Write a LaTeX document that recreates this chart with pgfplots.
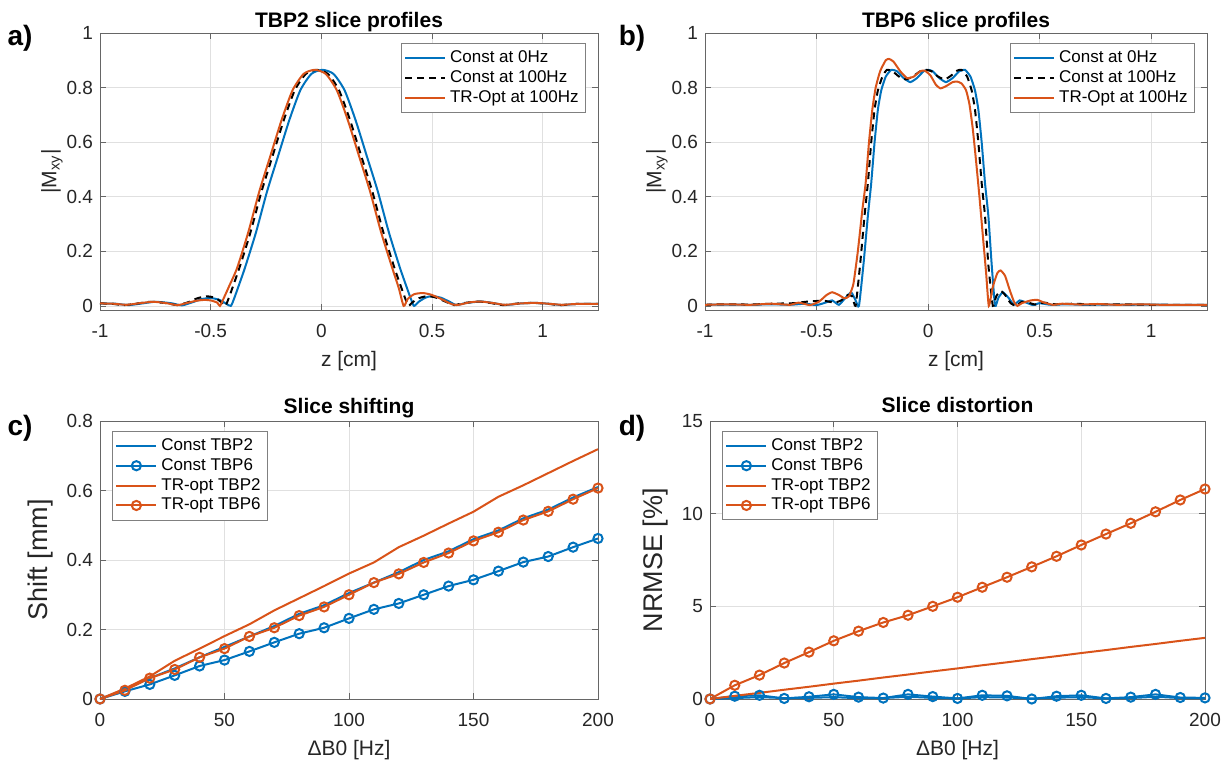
\documentclass[border=0pt]{standalone}
\usepackage{fontspec}
\setmainfont{Liberation Sans}
\usepackage{pgfplots}
\pgfplotsset{compat=1.18}

\definecolor{mblue}{RGB}{0,114,189}
\definecolor{morange}{RGB}{217,83,25}

\pgfplotsset{
  mat/.style={
    scale only axis, anchor=south west,
    axis line style={black!60, line width=0.4pt},
    tick align=inside, tick pos=both, major tick length=3pt,
    tick style={black!60, line width=0.4pt},
    grid=major, grid style={black!12, line width=0.4pt},
    /pgf/number format/assume math mode=true,
    tick label style={font=\fontsize{9.5}{10}\selectfont, text=black!85},
    xticklabel style={yshift=-3.5pt},
    label style={font=\fontsize{10.5}{12}\selectfont, text=black!85},
    title style={font=\bfseries\fontsize{10.5}{12}\selectfont, anchor=base, yshift=-3.5pt},
    legend cell align=left,
    legend style={font=\fontsize{8.5}{10}\selectfont, draw=black!50,
      line width=0.4pt, inner sep=1.5pt, row sep=-1.5pt},
    legend image code/.code={\draw[mark repeat=2,mark phase=2,##1]
      plot coordinates {(0pt,0pt) (10pt,0pt) (20pt,0pt)};},
  },
  bl/.style={mblue, line width=1pt},
  bk/.style={black, line width=1pt, dash pattern=on 3.5pt off 2.5pt},
  og/.style={morange, line width=1pt},
  mk/.style={mark=o, mark size=2.3pt, mark options={solid, fill=none}},
}

\begin{document}
\begin{tikzpicture}
\useasboundingbox (0,0) rectangle (612.5pt,380pt);

% a) TBP2 profiles
\begin{axis}[mat, at={(50pt,225pt)}, width=249pt, height=138.5pt,
  xmin=-1, xmax=1.25, ymin=-0.015, ymax=1,
  xtick={-1,-0.5,0,0.5,1}, ytick={0,0.2,0.4,0.6,0.8,1},
  title={TBP2 slice profiles}, xlabel={z [cm]}, ylabel={|M\textsubscript{xy}|},
  ylabel style={yshift=-5pt},
  legend style={at={(1,1)}, xshift=-6pt, yshift=-5pt, anchor=north east}]
\addplot[bl, smooth, tension=0.4] coordinates {
(-1.0,0.009) (-0.93,0.008) (-0.87,0.003) (-0.81,0.009) (-0.75,0.015) (-0.68,0.01)
(-0.63,0.002) (-0.58,0.014) (-0.54,0.025) (-0.5,0.029) (-0.46,0.022) (-0.43,0.008)
(-0.409,0.0) (-0.395,0.025) (-0.375,0.07) (-0.345,0.14) (-0.295,0.27) (-0.245,0.42)
(-0.195,0.55) (-0.145,0.68) (-0.095,0.79) (-0.045,0.85) (0.005,0.865) (0.055,0.85)
(0.105,0.79) (0.155,0.68) (0.205,0.55) (0.255,0.42) (0.305,0.27) (0.355,0.14)
(0.385,0.07) (0.405,0.025) (0.419,0.0) (0.44,0.015) (0.47,0.03) (0.5,0.036)
(0.54,0.03) (0.58,0.015) (0.61,0.003) (0.65,0.01) (0.72,0.016) (0.78,0.01)
(0.83,0.003) (0.9,0.009) (0.97,0.011) (1.04,0.007) (1.09,0.003) (1.15,0.007) (1.25,0.007)};
\addplot[bk, smooth, tension=0.4] coordinates {
(-1.0,0.009) (-0.95,0.008) (-0.89,0.003) (-0.83,0.009) (-0.77,0.015) (-0.7,0.01)
(-0.65,0.003) (-0.6,0.014) (-0.56,0.028) (-0.52,0.035) (-0.48,0.03) (-0.45,0.012)
(-0.434,0.0) (-0.42,0.025) (-0.4,0.07) (-0.37,0.14) (-0.32,0.27) (-0.27,0.42)
(-0.22,0.55) (-0.17,0.68) (-0.12,0.79) (-0.07,0.85) (-0.02,0.865) (0.03,0.85)
(0.08,0.79) (0.13,0.68) (0.18,0.55) (0.23,0.42) (0.28,0.27) (0.33,0.14)
(0.36,0.07) (0.38,0.025) (0.394,0.0) (0.41,0.012) (0.44,0.028) (0.48,0.036)
(0.52,0.03) (0.56,0.016) (0.6,0.003) (0.64,0.01) (0.71,0.016) (0.77,0.01)
(0.82,0.003) (0.89,0.009) (0.96,0.011) (1.03,0.007) (1.08,0.003) (1.15,0.007) (1.25,0.007)};
\addplot[og, smooth, tension=0.4] coordinates {
(-1.0,0.009) (-0.94,0.008) (-0.88,0.004) (-0.82,0.01) (-0.76,0.015) (-0.7,0.01)
(-0.65,0.003) (-0.61,0.01) (-0.57,0.018) (-0.53,0.022) (-0.5,0.02) (-0.47,0.012)
(-0.458,0.0) (-0.44,0.03) (-0.415,0.075) (-0.38,0.14) (-0.33,0.27) (-0.28,0.42)
(-0.23,0.55) (-0.18,0.68) (-0.13,0.79) (-0.08,0.85) (-0.03,0.865) (0.02,0.85)
(0.07,0.79) (0.12,0.68) (0.17,0.55) (0.22,0.42) (0.27,0.27) (0.32,0.14)
(0.35,0.065) (0.372,0.0) (0.39,0.025) (0.42,0.043) (0.46,0.047) (0.5,0.04)
(0.55,0.022) (0.59,0.006) (0.62,0.004) (0.67,0.013) (0.72,0.016) (0.78,0.01)
(0.83,0.004) (0.9,0.009) (0.97,0.011) (1.04,0.007) (1.09,0.004) (1.15,0.007) (1.25,0.007)};
\legend{Const at 0Hz, Const at 100Hz, TR-Opt at 100Hz}
\end{axis}

% b) TBP6 profiles
\begin{axis}[mat, at={(352.5pt,225pt)}, width=251pt, height=138.5pt,
  xmin=-1, xmax=1.25, ymin=-0.015, ymax=1,
  xtick={-1,-0.5,0,0.5,1}, ytick={0,0.2,0.4,0.6,0.8,1},
  title={TBP6 slice profiles}, xlabel={z [cm]}, ylabel={|M\textsubscript{xy}|},
  ylabel style={yshift=-5pt},
  legend style={at={(1,1)}, xshift=-6pt, yshift=-5pt, anchor=north east}]
\addplot[bl, smooth, tension=0.3] coordinates {
(-1.0,0.004) (-0.9,0.005) (-0.8,0.004) (-0.7,0.006) (-0.62,0.004) (-0.55,0.008)
(-0.5,0.003) (-0.46,0.012) (-0.43,0.02) (-0.4,0.004) (-0.37,0.03) (-0.345,0.05)
(-0.325,0.02) (-0.31,0.0) (-0.29,0.15) (-0.27,0.33) (-0.255,0.45) (-0.24,0.6)
(-0.225,0.72) (-0.21,0.79) (-0.19,0.84) (-0.165,0.865) (-0.14,0.86) (-0.11,0.835)
(-0.08,0.82) (-0.05,0.835) (-0.02,0.86) (0.0,0.865) (0.02,0.86) (0.05,0.835)
(0.08,0.82) (0.11,0.835) (0.14,0.86) (0.165,0.865) (0.19,0.84) (0.21,0.79)
(0.225,0.72) (0.24,0.6) (0.255,0.45) (0.27,0.33) (0.285,0.15) (0.3,0.0)
(0.315,0.03) (0.335,0.05) (0.36,0.03) (0.385,0.004) (0.41,0.02) (0.44,0.012)
(0.47,0.003) (0.5,0.01) (0.55,0.004) (0.62,0.006) (0.7,0.004) (0.8,0.005)
(0.9,0.004) (1.0,0.005) (1.1,0.004) (1.25,0.004)};
\addplot[bk, smooth, tension=0.3] coordinates {
(-1.0,0.004) (-0.9,0.006) (-0.8,0.005) (-0.7,0.008) (-0.6,0.01) (-0.55,0.015)
(-0.5,0.018) (-0.46,0.018) (-0.42,0.012) (-0.39,0.02) (-0.36,0.04) (-0.34,0.035)
(-0.325,0.0) (-0.305,0.15) (-0.285,0.33) (-0.27,0.45) (-0.255,0.6) (-0.24,0.72)
(-0.225,0.79) (-0.205,0.84) (-0.185,0.865) (-0.16,0.86) (-0.13,0.84) (-0.1,0.83)
(-0.07,0.84) (-0.035,0.86) (-0.01,0.865) (0.015,0.86) (0.045,0.84) (0.075,0.83)
(0.105,0.845) (0.13,0.862) (0.15,0.865) (0.175,0.84) (0.195,0.79) (0.21,0.72)
(0.225,0.6) (0.24,0.45) (0.255,0.33) (0.27,0.15) (0.29,0.0) (0.305,0.035)
(0.325,0.055) (0.345,0.04) (0.37,0.01) (0.395,0.0) (0.42,0.015) (0.45,0.012)
(0.48,0.005) (0.52,0.012) (0.57,0.006) (0.65,0.008) (0.75,0.005) (0.85,0.006)
(1.0,0.004) (1.25,0.004)};
\addplot[og, smooth, tension=0.3] coordinates {
(-1.0,0.004) (-0.9,0.006) (-0.8,0.004) (-0.7,0.008) (-0.62,0.004) (-0.58,0.012)
(-0.53,0.003) (-0.49,0.015) (-0.455,0.04) (-0.43,0.05) (-0.4,0.04) (-0.375,0.028)
(-0.355,0.035) (-0.335,0.08) (-0.315,0.2) (-0.295,0.35) (-0.28,0.45) (-0.265,0.6)
(-0.25,0.72) (-0.235,0.8) (-0.215,0.86) (-0.19,0.9) (-0.175,0.905) (-0.155,0.895)
(-0.125,0.86) (-0.095,0.835) (-0.065,0.84) (-0.035,0.86) (-0.015,0.862) (0.01,0.845)
(0.035,0.81) (0.055,0.797) (0.08,0.805) (0.11,0.82) (0.13,0.822) (0.15,0.815)
(0.17,0.79) (0.185,0.74) (0.2,0.65) (0.215,0.53) (0.23,0.4) (0.245,0.26)
(0.26,0.12) (0.272,0.0) (0.29,0.07) (0.31,0.12) (0.325,0.13) (0.345,0.11)
(0.365,0.06) (0.385,0.015) (0.4,0.0) (0.42,0.01) (0.46,0.02) (0.49,0.022)
(0.52,0.012) (0.56,0.004) (0.6,0.008) (0.68,0.005) (0.76,0.007) (0.85,0.004)
(0.95,0.006) (1.05,0.004) (1.25,0.004)};
\legend{Const at 0Hz, Const at 100Hz, TR-Opt at 100Hz}
\end{axis}

% c) slice shifting
\begin{axis}[mat, at={(50pt,30.5pt)}, width=249pt, height=139pt,
  xmin=0, xmax=200, ymin=0, ymax=0.8,
  xtick={0,50,100,150,200}, ytick={0,0.2,0.4,0.6,0.8},
  title={Slice shifting}, xlabel={ΔB0 [Hz]}, ylabel={Shift [mm]},
  title style={yshift=1.5pt},
  ylabel style={font=\fontsize{13.5}{15}\selectfont},
  legend style={at={(0,1)}, xshift=6pt, yshift=-5pt, anchor=north west}]
\addplot[bl] coordinates {
(0,0) (10,0.028) (20,0.06) (30,0.088) (40,0.12) (50,0.15) (60,0.18) (70,0.21)
(80,0.245) (90,0.27) (100,0.305) (110,0.335) (120,0.365) (130,0.4) (140,0.425)
(150,0.46) (160,0.485) (170,0.52) (180,0.545) (190,0.58) (200,0.61)};
\addplot[bl, mk] coordinates {
(0,0) (10,0.022) (20,0.042) (30,0.068) (40,0.095) (50,0.112) (60,0.137) (70,0.163)
(80,0.188) (90,0.205) (100,0.232) (110,0.258) (120,0.275) (130,0.3) (140,0.325)
(150,0.343) (160,0.368) (170,0.394) (180,0.41) (190,0.437) (200,0.462)};
\addplot[og] coordinates {
(0,0) (10,0.03) (20,0.065) (30,0.11) (40,0.145) (50,0.181) (60,0.215) (70,0.255)
(80,0.29) (90,0.325) (100,0.361) (110,0.393) (120,0.437) (130,0.47) (140,0.505)
(150,0.539) (160,0.582) (170,0.615) (180,0.65) (190,0.685) (200,0.719)};
\addplot[og, mk] coordinates {
(0,0) (10,0.025) (20,0.06) (30,0.085) (40,0.12) (50,0.145) (60,0.18) (70,0.205)
(80,0.24) (90,0.265) (100,0.3) (110,0.335) (120,0.36) (130,0.393) (140,0.42)
(150,0.455) (160,0.48) (170,0.515) (180,0.54) (190,0.575) (200,0.607)};
\legend{Const TBP2, Const TBP6, TR-opt TBP2, TR-opt TBP6}
\end{axis}

% d) slice distortion
\begin{axis}[mat, at={(355pt,30.5pt)}, width=247.5pt, height=139pt,
  xmin=0, xmax=200, ymin=0, ymax=15,
  xtick={0,50,100,150,200}, ytick={0,5,10,15},
  title={Slice distortion}, xlabel={ΔB0 [Hz]}, ylabel={NRMSE [\%]},
  title style={yshift=1.5pt},
  ylabel style={font=\fontsize{13.5}{15}\selectfont},
  legend style={at={(0,1)}, xshift=6pt, yshift=-5pt, anchor=north west}]
\addplot[bl] coordinates {
(0,0) (10,0.05) (20,0.1) (30,0.05) (40,0.06) (50,0.1) (60,0.04) (70,0.05)
(80,0.12) (90,0.06) (100,0.03) (110,0.1) (120,0.08) (130,0.03) (140,0.07)
(150,0.1) (160,0.03) (170,0.05) (180,0.12) (190,0.05) (200,0.04)};
\addplot[bl, mk] coordinates {
(0,0) (10,0.15) (20,0.2) (30,0.03) (40,0.12) (50,0.25) (60,0.1) (70,0.05)
(80,0.25) (90,0.13) (100,0.03) (110,0.2) (120,0.17) (130,0.0) (140,0.15)
(150,0.2) (160,0.03) (170,0.1) (180,0.25) (190,0.08) (200,0.06)};
\addplot[og] coordinates {
(0,0) (10,0.17) (20,0.33) (30,0.5) (40,0.66) (50,0.83) (60,0.99) (70,1.16)
(80,1.32) (90,1.49) (100,1.65) (110,1.82) (120,1.98) (130,2.15) (140,2.31)
(150,2.48) (160,2.64) (170,2.81) (180,2.97) (190,3.14) (200,3.3)};
\addplot[og, mk] coordinates {
(0,0) (10,0.74) (20,1.29) (30,1.94) (40,2.53) (50,3.14) (60,3.66) (70,4.13)
(80,4.52) (90,5.0) (100,5.49) (110,6.03) (120,6.57) (130,7.13) (140,7.7)
(150,8.31) (160,8.9) (170,9.48) (180,10.1) (190,10.74) (200,11.33)};
\legend{Const TBP2, Const TBP6, TR-opt TBP2, TR-opt TBP6}
\end{axis}

\node[font=\bfseries\fontsize{14}{15}\selectfont] at (10pt,361pt) {a)};
\node[font=\bfseries\fontsize{14}{15}\selectfont] at (316pt,361pt) {b)};
\node[font=\bfseries\fontsize{14}{15}\selectfont] at (10pt,166pt) {c)};
\node[font=\bfseries\fontsize{14}{15}\selectfont] at (316pt,166pt) {d)};
\end{tikzpicture}
\end{document}
